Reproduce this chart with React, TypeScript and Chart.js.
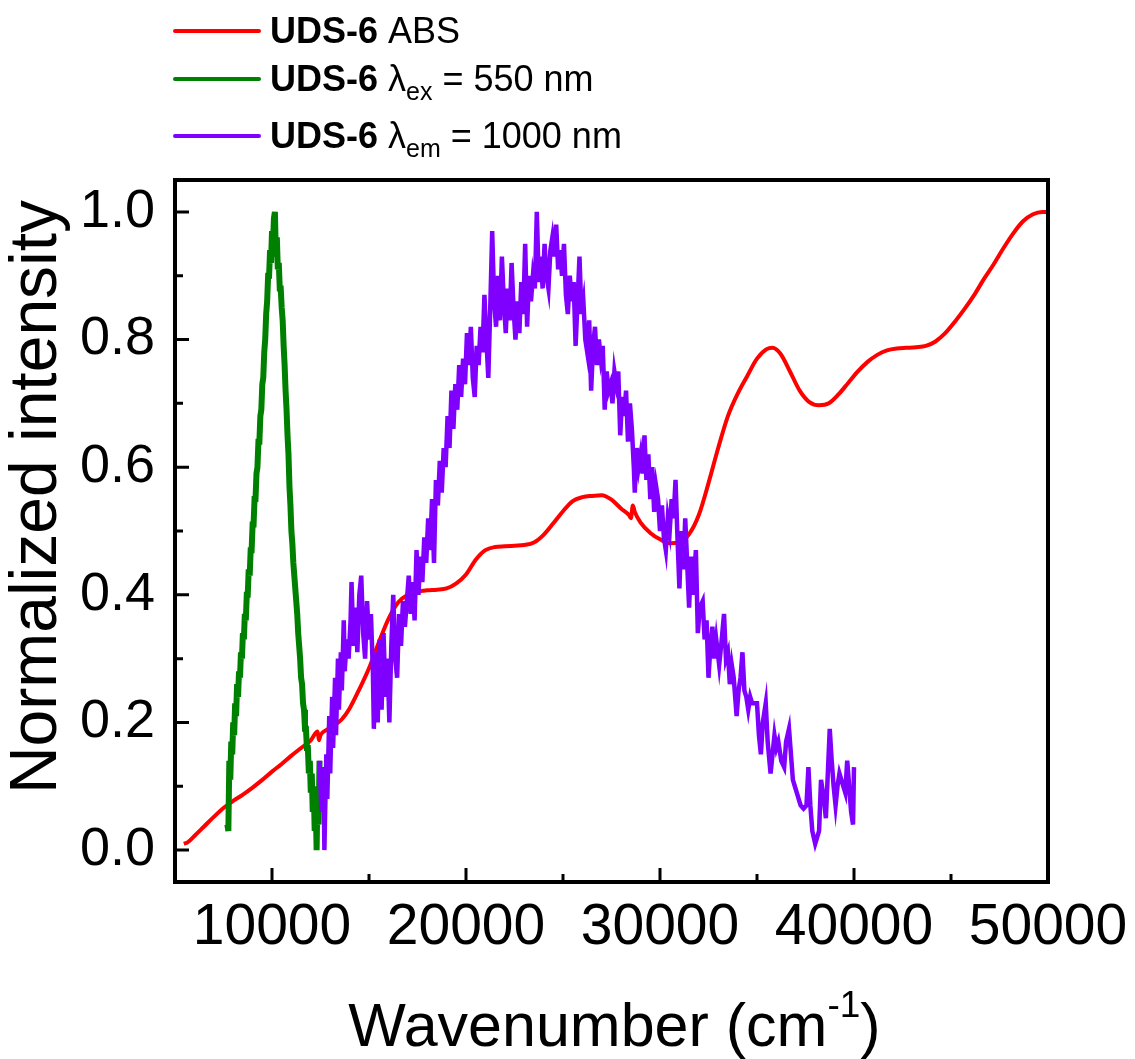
import { useEffect, useRef } from 'react';
import { Chart, registerables } from 'chart.js';

Chart.register(...registerables);

const FONT = '"Liberation Sans", Arial, Helvetica, sans-serif';

// ---- Data -----------------------------------------------------------------
// UDS-6 ABS (absorption, red)
const absWavenumber = [
  5450, 5650, 6000, 6500, 7000, 7500, 8000, 8500, 9000, 9500, 10000, 10500, 11000, 11500,
  12000, 12350, 12420, 12500, 12800, 13200, 13600, 14000, 14500, 15000, 15500, 16000, 16500,
  17000, 17500, 18000, 18500, 19000, 19500, 20000, 20500, 21000, 21500, 22000, 22500, 23000,
  23500, 24000, 24500, 25000, 25500, 26000, 26500, 27000, 27500, 28000, 28400, 28500, 28600,
  28700, 29000, 29500, 30000, 30500, 31000, 31500, 32000, 32500, 33000, 33500, 34000, 34500,
  35000, 35500, 35800, 36200, 36700, 37200, 37700, 38200, 38700, 39200, 39700, 40200, 40700,
  41200, 41700, 42200, 42700, 43200, 43700, 44200, 44700, 45200, 45700, 46200, 46700, 47200,
  47700, 48200, 48700, 49200, 49700, 50000,
];
const absIntensity = [
  0.01, 0.012, 0.022, 0.037, 0.052, 0.066, 0.077, 0.087, 0.098, 0.11, 0.123, 0.135, 0.148, 0.16,
  0.172, 0.186, 0.172, 0.18, 0.188, 0.195, 0.205, 0.222, 0.252, 0.285, 0.325, 0.362, 0.388,
  0.4, 0.405, 0.407, 0.408, 0.41, 0.418, 0.432, 0.455, 0.47, 0.475, 0.476, 0.477, 0.478,
  0.482, 0.494, 0.512, 0.531, 0.547, 0.553, 0.555, 0.556, 0.549, 0.535, 0.525, 0.52, 0.54,
  0.53, 0.513, 0.497, 0.487, 0.481, 0.482, 0.495, 0.525, 0.575, 0.63, 0.68, 0.715, 0.743,
  0.77, 0.785, 0.787, 0.778, 0.75, 0.72, 0.702, 0.697, 0.7, 0.714, 0.732, 0.75, 0.765,
  0.776, 0.783, 0.786, 0.787, 0.788, 0.79, 0.797, 0.81, 0.828, 0.848, 0.87, 0.895, 0.918,
  0.943, 0.966, 0.985, 0.996, 1.0, 1.0,
];

// UDS-6 λex = 550 nm (green)
const exWavenumber = [
  7700, 7750, 7800, 7850, 7900, 7950, 8000, 8050, 8100, 8150, 8200, 8250, 8300, 8350, 8400,
  8450, 8500, 8550, 8600, 8650, 8700, 8750, 8800, 8850, 8900, 8950, 9000, 9050, 9100, 9150,
  9200, 9250, 9300, 9350, 9400, 9450, 9500, 9550, 9600, 9650, 9700, 9750, 9800, 9850, 9900,
  9950, 10000, 10050, 10100, 10150, 10200, 10250, 10300, 10350, 10400, 10450, 10500, 10550,
  10600, 10650, 10700, 10750, 10800, 10850, 10900, 10950, 11000, 11050, 11100, 11150, 11200,
  11250, 11300, 11350, 11400, 11450, 11500, 11550, 11600, 11650, 11700, 11750, 11800, 11850,
  11900, 11950, 12000, 12050, 12100, 12150, 12200, 12250, 12300, 12350, 12400, 12450,
];
const exIntensity = [
  0.04, 0.03, 0.14, 0.11, 0.17, 0.15, 0.2, 0.18, 0.23, 0.21, 0.26, 0.24, 0.28, 0.27, 0.31,
  0.3, 0.34, 0.33, 0.37, 0.36, 0.4, 0.4, 0.44, 0.43, 0.47, 0.47, 0.51, 0.51, 0.55, 0.55,
  0.59, 0.6, 0.64, 0.64, 0.68, 0.69, 0.73, 0.74, 0.78, 0.8, 0.84, 0.86, 0.9, 0.9, 0.94,
  0.92, 0.97, 0.95, 0.99, 1.0, 0.93, 0.96, 0.91, 0.92, 0.88, 0.88, 0.85, 0.83,
  0.79, 0.76, 0.72, 0.69, 0.65, 0.62, 0.57, 0.54, 0.5, 0.48, 0.45, 0.43, 0.41,
  0.39, 0.37, 0.34, 0.32, 0.3, 0.27, 0.26, 0.23, 0.22, 0.19, 0.19, 0.16, 0.16,
  0.12, 0.14, 0.09, 0.12, 0.06, 0.1, 0.03, 0.08, 0.0, 0.1, 0.04, 0.14,
];

// UDS-6 λem = 1000 nm (purple)
const emWavenumber = [
  12450, 12550, 12650, 12700, 12800, 12850, 12950, 13000, 13100, 13150, 13250, 13300, 13400,
  13450, 13550, 13600, 13700, 13750, 13850, 13950, 14050, 14100, 14200, 14300, 14400, 14500,
  14600, 14700, 14800, 14900, 15000, 15100, 15200, 15250, 15350, 15450, 15550, 15650, 15750,
  15850, 15950, 16050, 16150, 16250, 16350, 16450, 16550, 16650, 16750, 16850, 16950, 17050,
  17150, 17250, 17350, 17450, 17550, 17650, 17750, 17850, 17950, 18050, 18150, 18250, 18350,
  18450, 18550, 18650, 18750, 18850, 18950, 19050, 19150, 19250, 19350, 19450, 19550, 19650,
  19750, 19850, 19950, 20050, 20150, 20250, 20350, 20450, 20550, 20650, 20750, 20850, 20950,
  21050, 21150, 21250, 21350, 21450, 21550, 21650, 21750, 21850, 21950, 22050, 22150, 22250,
  22350, 22450, 22550, 22650, 22750, 22850, 22950, 23050, 23150, 23250, 23350, 23450, 23550,
  23650, 23750, 23850, 23950, 24050, 24150, 24250, 24350, 24450, 24550, 24650, 24750, 24850,
  24950, 25050, 25150, 25250, 25350, 25450, 25550, 25650, 25750, 25850, 25950, 26050, 26150,
  26250, 26350, 26450, 26550, 26650, 26750, 26850, 26950, 27050, 27150, 27250, 27350, 27450,
  27550, 27650, 27750, 27850, 27950, 28050, 28150, 28250, 28350, 28450, 28550, 28650, 28700,
  28800, 28900, 29000, 29100, 29200, 29300, 29400, 29500, 29600, 29700, 29800, 29900, 30000,
  30100, 30200, 30300, 30400, 30500, 30600, 30700, 30800, 30900, 31000, 31100, 31200, 31300,
  31400, 31500, 31600, 31700, 31850, 31950, 32050, 32200, 32300, 32400, 32500, 32600, 32700,
  32800, 32900, 33050, 33150, 33300, 33400, 33500, 33600, 33700, 33800, 33950, 34050, 34150,
  34250, 34350, 34450, 34550, 34650, 34750, 34850, 35000, 35100, 35200, 35300, 35450, 35550,
  35700, 35800, 35900, 36000, 36100, 36250, 36400, 36500, 36650, 36750, 36850, 36950, 37050,
  37150, 37250, 37400, 37550, 37650, 37750, 37850, 38000, 38100, 38200, 38300, 38450, 38550,
  38650, 38750, 38850, 38950, 39050, 39150, 39250, 39350, 39450, 39550, 39650, 39750, 39850,
  39950, 40000,
];
const emIntensity = [
  0.14, 0.06, 0.13, 0.0, 0.15, 0.08, 0.21, 0.12, 0.24, 0.16, 0.27, 0.18, 0.3,
  0.22, 0.31, 0.25, 0.36, 0.28, 0.33, 0.3, 0.36, 0.42, 0.32, 0.38, 0.31, 0.4,
  0.43, 0.34, 0.3, 0.39, 0.33, 0.37, 0.28, 0.19, 0.31, 0.2, 0.33, 0.22, 0.34,
  0.24, 0.3, 0.2, 0.32, 0.4, 0.3, 0.27, 0.37, 0.32, 0.39, 0.35, 0.39, 0.43,
  0.37, 0.42, 0.36, 0.47, 0.4, 0.46, 0.42, 0.49, 0.45, 0.52, 0.47, 0.55, 0.45,
  0.58, 0.54, 0.61, 0.56, 0.63, 0.6, 0.68, 0.63, 0.72, 0.66, 0.73, 0.69, 0.76,
  0.71, 0.77, 0.73, 0.81, 0.76, 0.82, 0.74, 0.71, 0.79, 0.76, 0.82, 0.78, 0.87,
  0.8, 0.74, 0.85, 0.97, 0.86, 0.82, 0.9, 0.83, 0.93, 0.86, 0.81, 0.88, 0.83,
  0.92, 0.85, 0.8, 0.86, 0.81, 0.89, 0.84, 0.95, 0.82, 0.9, 0.86, 0.9, 0.88,
  1.0, 0.89, 0.93, 0.88, 0.95, 0.9, 0.88, 0.94, 0.96, 0.93, 0.98, 0.91, 0.94,
  0.9, 0.95, 0.87, 0.84, 0.9, 0.86, 0.89, 0.79, 0.86, 0.93, 0.84, 0.86, 0.8,
  0.78, 0.83, 0.72, 0.79, 0.82, 0.76, 0.8, 0.77, 0.79, 0.69, 0.75, 0.72, 0.73,
  0.7, 0.75, 0.73, 0.75, 0.65, 0.71, 0.68, 0.72, 0.64, 0.7, 0.66, 0.6, 0.56,
  0.63, 0.6, 0.62, 0.59, 0.65, 0.58, 0.62, 0.55, 0.6, 0.53, 0.57, 0.55, 0.5,
  0.54, 0.49, 0.47, 0.52, 0.5, 0.55, 0.52, 0.58, 0.49, 0.41, 0.5, 0.44, 0.52,
  0.45, 0.38, 0.46, 0.4, 0.47, 0.34, 0.38, 0.39, 0.33, 0.36, 0.27, 0.32, 0.35,
  0.3, 0.33, 0.29, 0.32, 0.37, 0.3, 0.31, 0.26, 0.29, 0.27, 0.21, 0.25, 0.27,
  0.31, 0.25, 0.24, 0.22, 0.24, 0.23, 0.23, 0.23, 0.18, 0.15, 0.2, 0.23, 0.17,
  0.12, 0.15, 0.18, 0.16, 0.17, 0.14, 0.13, 0.17, 0.19, 0.15, 0.11, 0.1, 0.09,
  0.08, 0.07, 0.065, 0.07, 0.13, 0.07, 0.03, 0.01, 0.02, 0.03, 0.11, 0.08, 0.05,
  0.12, 0.19, 0.14, 0.1, 0.07, 0.1, 0.12, 0.11, 0.1, 0.09, 0.14, 0.1, 0.06,
  0.04, 0.13,
];

// Axes
const xMajorTicks = [10000, 20000, 30000, 40000, 50000];
const xMinorTicks = [15000, 25000, 35000, 45000];
const yMajorTicks = [0, 0.2, 0.4, 0.6, 0.8, 1.0];
const yMinorTicks = [0.1, 0.3, 0.5, 0.7, 0.9];
const xRange = [5000, 50000];
const yRange = [-0.05, 1.05];

// Legend entries
const legendItems = [
  { color: '#FF0000', bold: 'UDS-6', parts: [{ t: ' ABS' }] },
  { color: '#008000', bold: 'UDS-6', parts: [{ t: ' \u03BB' }, { t: 'ex', sub: true }, { t: ' = 550 nm' }] },
  { color: '#7F00FF', bold: 'UDS-6', parts: [{ t: ' \u03BB' }, { t: 'em', sub: true }, { t: ' = 1000 nm' }] },
];

const toPoints = (xs: number[], ys: number[]) => xs.map((x, i) => ({ x, y: ys[i] }));

const decorPlugin = {
  id: 'decor',
  afterDraw(chart: any) {
    const { ctx, chartArea, scales } = chart;
    const { left, right, top, bottom } = chartArea;
    const xs = scales.x;
    const ys = scales.y;
    ctx.save();
    // frame
    ctx.strokeStyle = '#000';
    ctx.lineWidth = 4;
    ctx.strokeRect(left, top, right - left, bottom - top);
    // ticks
    ctx.lineWidth = 3;
    ctx.beginPath();
    xMajorTicks.forEach((v) => {
      const px = xs.getPixelForValue(v);
      ctx.moveTo(px, bottom);
      ctx.lineTo(px, bottom - 14);
    });
    xMinorTicks.forEach((v) => {
      const px = xs.getPixelForValue(v);
      ctx.moveTo(px, bottom);
      ctx.lineTo(px, bottom - 8);
    });
    yMajorTicks.forEach((v) => {
      const py = ys.getPixelForValue(v);
      ctx.moveTo(left, py);
      ctx.lineTo(left + 14, py);
    });
    yMinorTicks.forEach((v) => {
      const py = ys.getPixelForValue(v);
      ctx.moveTo(left, py);
      ctx.lineTo(left + 8, py);
    });
    ctx.stroke();

    // axis titles
    ctx.fillStyle = '#000';
    ctx.textBaseline = 'alphabetic';
    // x title with superscript
    const mainFont = `61px ${FONT}`;
    const supFont = `37px ${FONT}`;
    ctx.font = mainFont;
    const w1 = ctx.measureText('Wavenumber (cm').width;
    const w3 = ctx.measureText(')').width;
    ctx.font = supFont;
    const w2 = ctx.measureText('-1').width;
    const total = w1 + w2 + w3;
    const x0 = (left + right) / 2 - total / 2 + 3;
    const base = 1046;
    ctx.textAlign = 'left';
    ctx.font = mainFont;
    ctx.fillText('Wavenumber (cm', x0, base);
    ctx.font = supFont;
    ctx.fillText('-1', x0 + w1, base - 29);
    ctx.font = mainFont;
    ctx.fillText(')', x0 + w1 + w2, base);

    // y title
    ctx.save();
    ctx.translate(56, 497);
    ctx.rotate(-Math.PI / 2);
    ctx.font = `66px ${FONT}`;
    ctx.textAlign = 'center';
    ctx.fillText('Normalized intensity', 0, 0);
    ctx.restore();

    // legend
    const rowsY = [31, 79, 136];
    legendItems.forEach((item, i) => {
      const y = rowsY[i];
      ctx.strokeStyle = item.color;
      ctx.lineWidth = 4;
      ctx.lineCap = 'round';
      ctx.beginPath();
      ctx.moveTo(175, y);
      ctx.lineTo(259, y);
      ctx.stroke();
      let x = 270;
      const bl = y + 12;
      ctx.textAlign = 'left';
      ctx.font = `bold 36px ${FONT}`;
      ctx.fillText(item.bold, x, bl);
      x += ctx.measureText(item.bold).width;
      item.parts.forEach((p: any) => {
        if (p.sub) {
          ctx.font = `25px ${FONT}`;
          ctx.fillText(p.t, x, bl + 9);
        } else {
          ctx.font = `36px ${FONT}`;
          ctx.fillText(p.t, x, bl);
        }
        x += ctx.measureText(p.t).width;
      });
    });
    ctx.restore();
  },
};

export default function App() {
  const canvasRef = useRef<HTMLCanvasElement>(null);

  useEffect(() => {
    const canvas = canvasRef.current;
    if (!canvas) return;
    const chart = new Chart(canvas, {
      type: 'line',
      data: {
        datasets: [
          {
            label: 'UDS-6 ABS',
            data: toPoints(absWavenumber, absIntensity),
            borderColor: '#FF0000',
            borderWidth: 4,
            pointRadius: 0,
            cubicInterpolationMode: 'monotone',
            order: 3,
          },
          {
            label: 'UDS-6 λex = 550 nm',
            data: toPoints(exWavenumber, exIntensity),
            borderColor: '#008000',
            borderWidth: 6,
            pointRadius: 0,
            tension: 0,
            order: 2,
          },
          {
            label: 'UDS-6 λem = 1000 nm',
            data: toPoints(emWavenumber, emIntensity),
            borderColor: '#7F00FF',
            borderWidth: 4.5,
            pointRadius: 0,
            tension: 0,
            order: 1,
          },
        ],
      },
      options: {
        responsive: false,
        animation: false,
        events: [],
        layout: { padding: { top: 180, right: 87, left: 0, bottom: 0 } },
        plugins: { legend: { display: false }, tooltip: { enabled: false } },
        scales: {
          x: {
            type: 'linear',
            min: xRange[0],
            max: xRange[1],
            afterBuildTicks: (s: any) => {
              s.ticks = xMajorTicks.map((v) => ({ value: v }));
            },
            afterFit: (s: any) => {
              s.height = 177;
              s.paddingLeft = 0;
              s.paddingRight = 0;
            },
            grid: { display: false },
            border: { display: false },
            ticks: {
              color: '#000',
              font: { size: 57, family: FONT },
              padding: 4,
              maxRotation: 0,
              autoSkip: false,
              callback: (v: any) => String(v),
            },
          },
          y: {
            type: 'linear',
            min: yRange[0],
            max: yRange[1],
            afterBuildTicks: (s: any) => {
              s.ticks = yMajorTicks.map((v) => ({ value: v }));
            },
            afterFit: (s: any) => {
              s.width = 175;
              s.paddingTop = 0;
              s.paddingBottom = 0;
            },
            grid: { display: false },
            border: { display: false },
            ticks: {
              color: '#000',
              font: { size: 54, family: FONT },
              padding: 12,
              autoSkip: false,
              callback: (v: any) => Number(v).toFixed(1),
            },
          },
        },
      },
      plugins: [decorPlugin],
    });
    return () => chart.destroy();
  }, []);

  return (
    <div style={{ position: 'fixed', left: 0, top: 0, width: 1135, height: 1059, background: '#fff' }}>
      <canvas ref={canvasRef} width={1135} height={1059} style={{ display: 'block', width: 1135, height: 1059 }} />
    </div>
  );
}
